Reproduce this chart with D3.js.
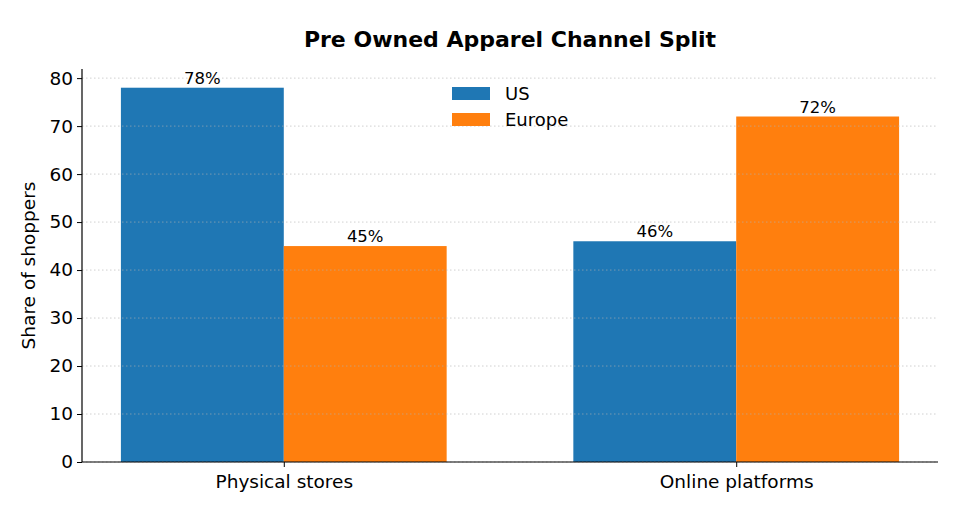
<!DOCTYPE html>
<head>
  <meta charset="utf-8">
  <title>Pre Owned Apparel Channel Split</title>
  <script src="https://d3js.org/d3.v7.min.js"></script>
  <style>
    body { margin: 0; background: #fff; }
    text { font-family: "DejaVu Sans", sans-serif; fill: #000; }
    .grid line { stroke: #b0b0b0; stroke-dasharray: 1.5,2.5; stroke-opacity: 0.6; }
  </style>
</head>
<body>
  <script>
    var categories = ["Physical stores", "Online platforms"];
    var seriesNames = ["US", "Europe"];
    var usValues = [78, 46];
    var europeValues = [45, 72];
    var yTicks = [0, 10, 20, 30, 40, 50, 60, 70, 80];
    var colors = ["#1f77b4", "#ff7f0e"];

    var width = 971, height = 522,
        margin = {left: 82, right: 33, top: 69, bottom: 60},
        svg = d3.select("body").append("svg")
          .attr("width", width)
          .attr("height", height);

    var barW = 0.36;
    // numeric x positions like matplotlib (0, 1) with 5% margins
    var x = d3.scaleLinear()
      .domain([-barW - 0.086, 1 + barW + 0.086])
      .range([margin.left, width - margin.right]);
    var y = d3.scaleLinear()
      .domain([0, 78 * 1.05])
      .range([height - margin.bottom, margin.top]);

    var rows = [];
    categories.forEach(function (c, i) {
      rows.push({cat: i, s: 0, v: usValues[i], pos: i - barW / 2});
      rows.push({cat: i, s: 1, v: europeValues[i], pos: i + barW / 2});
    });

    var g = svg.append("g");

    g.selectAll(".bar")
      .data(rows)
      .enter().append("rect")
        .attr("class", "bar")
        .attr("x", function (d) { return x(d.pos - barW / 2); })
        .attr("width", function (d) { return x(barW) - x(0); })
        .attr("y", function (d) { return y(d.v); })
        .attr("height", function (d) { return y(0) - y(d.v); })
        .attr("fill", function (d) { return colors[d.s]; });

    // grid on top of bars
    g.append("g")
      .attr("class", "grid")
      .selectAll("line")
      .data(yTicks)
      .enter().append("line")
        .attr("x1", x.range()[0])
        .attr("x2", x.range()[1])
        .attr("y1", function (d) { return y(d); })
        .attr("y2", function (d) { return y(d); });

    g.selectAll(".lbl")
      .data(rows)
      .enter().append("text")
        .attr("class", "lbl")
        .attr("x", function (d) { return x(d.pos); })
        .attr("y", function (d) { return y(d.v) - 4; })
        .attr("text-anchor", "middle")
        .attr("font-size", "16.5px")
        .text(function (d) { return d.v + "%"; });

    var yAxis = svg.append("g")
      .attr("transform", "translate(" + margin.left + ",0)")
      .call(d3.axisLeft(y).tickValues(yTicks).tickSize(5).tickPadding(4));
    yAxis.selectAll("text").attr("font-size", "18.5px").style("font-family", "DejaVu Sans");
    yAxis.select(".domain").attr("d", "M0," + y.range()[0] + "V" + y.range()[1]);

    var xAxis = svg.append("g")
      .attr("transform", "translate(0," + y(0) + ")")
      .call(d3.axisBottom(x).tickValues([0, 1])
        .tickFormat(function (d) { return categories[d]; })
        .tickSize(5).tickPadding(8));
    xAxis.selectAll("text").attr("font-size", "18.5px").style("font-family", "DejaVu Sans");
    xAxis.select(".domain").attr("d", "M" + x.range()[0] + ",0H" + x.range()[1]);
    svg.selectAll(".domain").attr("stroke", "#000").attr("stroke-width", 1.2);

    svg.append("text")
      .attr("x", (x.range()[0] + x.range()[1]) / 2)
      .attr("y", 47)
      .attr("text-anchor", "middle")
      .attr("font-size", "22px")
      .attr("font-weight", "bold")
      .text("Pre Owned Apparel Channel Split");

    svg.append("text")
      .attr("transform", "translate(35," + ((y.range()[0] + y.range()[1]) / 2) + ") rotate(-90)")
      .attr("text-anchor", "middle")
      .attr("font-size", "18.5px")
      .text("Share of shoppers");

    var legend = svg.append("g")
      .attr("transform", "translate(452,87)");
    var item = legend.selectAll("g")
      .data(seriesNames)
      .enter().append("g")
        .attr("transform", function (d, i) { return "translate(0," + (i * 26) + ")"; });
    item.append("rect")
      .attr("width", 38).attr("height", 13)
      .attr("fill", function (d, i) { return colors[i]; });
    item.append("text")
      .attr("x", 53).attr("y", 13)
      .attr("font-size", "18px")
      .text(function (d) { return d; });
  </script>
</body>
